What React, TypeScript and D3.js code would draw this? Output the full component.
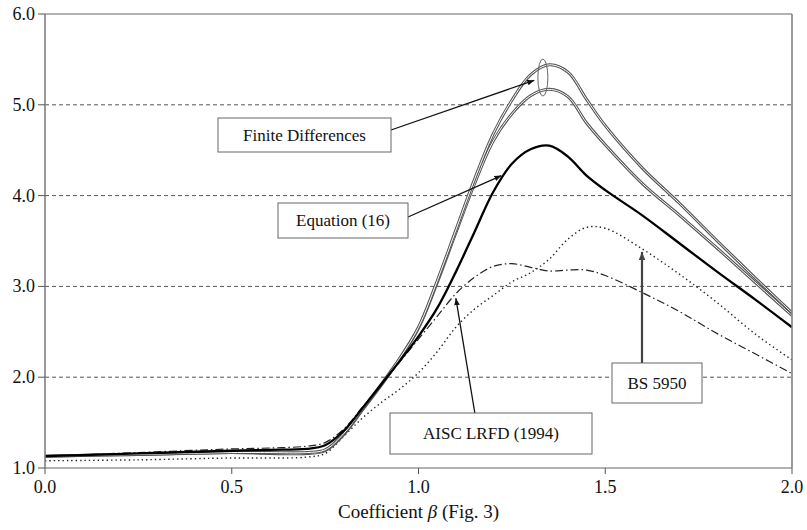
import React from "react";
import * as d3 from "d3";

const betas = [0, 0.25, 0.5, 0.6, 0.7, 0.75, 0.8, 0.85, 0.9, 0.95, 1.0, 1.05, 1.1, 1.15, 1.2, 1.25, 1.3, 1.35, 1.4, 1.45, 1.5, 1.6, 1.7, 1.8, 1.9, 2.0];

const equation16 = [1.13, 1.16, 1.19, 1.2, 1.21, 1.25, 1.41, 1.66, 1.92, 2.18, 2.45, 2.76, 3.16, 3.6, 4.04, 4.35, 4.51, 4.55, 4.43, 4.22, 4.06, 3.78, 3.47, 3.16, 2.86, 2.55];
const finiteDiffUpper = [1.13, 1.15, 1.17, 1.17, 1.17, 1.2, 1.38, 1.65, 1.92, 2.21, 2.55, 3.06, 3.62, 4.18, 4.68, 5.05, 5.33, 5.44, 5.36, 5.06, 4.77, 4.3, 3.91, 3.5, 3.1, 2.71];
const finiteDiffLower = [1.13, 1.15, 1.17, 1.16, 1.16, 1.19, 1.37, 1.64, 1.91, 2.2, 2.54, 3.04, 3.59, 4.13, 4.6, 4.9, 5.1, 5.17, 5.09, 4.8, 4.56, 4.13, 3.78, 3.42, 3.05, 2.68];
const aiscLrfd = [1.13, 1.17, 1.21, 1.22, 1.24, 1.28, 1.43, 1.67, 1.92, 2.17, 2.42, 2.67, 2.92, 3.1, 3.22, 3.25, 3.21, 3.17, 3.18, 3.18, 3.12, 2.93, 2.72, 2.48, 2.26, 2.04];
const bs5950 = [1.08, 1.09, 1.11, 1.11, 1.12, 1.16, 1.35, 1.55, 1.72, 1.87, 2.05, 2.28, 2.55, 2.75, 2.9, 3.05, 3.15, 3.3, 3.52, 3.65, 3.64, 3.41, 3.13, 2.82, 2.48, 2.19];

const xTicks = [0, 0.5, 1.0, 1.5, 2.0];
const yTicks = [1, 2, 3, 4, 5, 6];
const gridValues = [2, 3, 4, 5];

const W = 807;
const H = 530;
const M = { left: 45, right: 15, top: 14, bottom: 62 };

const FONT = '"Liberation Serif", "Times New Roman", Times, "DejaVu Serif", serif';

export default function App() {
  const x = d3.scaleLinear().domain([0, 2]).range([M.left, W - M.right]);
  const y = d3.scaleLinear().domain([1, 6]).range([H - M.bottom, M.top]);

  const line = (vals: number[]) =>
    d3
      .line<number>()
      .x((_, i) => x(betas[i]))
      .y((v) => y(v))
      .curve(d3.curveCatmullRom.alpha(0.5))(vals) || "";

  const textStyle: React.CSSProperties = { fontFamily: FONT, fill: "#111" };
  const axisColor = "#808080";

  const box = (x0: number, y0: number, x1: number, y1: number, label: string) => (
    <g>
      <rect x={x0} y={y0} width={x1 - x0} height={y1 - y0} fill="white" stroke="#666" strokeWidth={1} />
      <text x={(x0 + x1) / 2} y={(y0 + y1) / 2 + 5.5} textAnchor="middle" style={{ ...textStyle, fontSize: 17 }}>
        {label}
      </text>
    </g>
  );

  return (
    <div style={{ position: "absolute", left: 0, top: 0, fontFamily: FONT }}>
      <svg width={W} height={H} style={{ display: "block", background: "white" }}>
        <defs>
          <marker id="arr" viewBox="0 0 10 10" refX="10" refY="5" markerWidth="7" markerHeight="7" orient="auto-start-reverse" markerUnits="userSpaceOnUse">
            <path d="M0,1 L10,5 L0,9 z" fill="#111" />
          </marker>
          <marker id="arrG" viewBox="0 0 10 10" refX="10" refY="5" markerWidth="8" markerHeight="8" orient="auto-start-reverse" markerUnits="userSpaceOnUse">
            <path d="M0,1 L10,5 L0,9 z" fill="#444" />
          </marker>
          <clipPath id="plot">
            <rect x={M.left} y={M.top} width={W - M.left - M.right} height={H - M.top - M.bottom} />
          </clipPath>
        </defs>

        {gridValues.map((v) => (
          <line key={v} x1={x(0)} x2={x(2)} y1={y(v)} y2={y(v)} stroke="#555" strokeWidth={1} strokeDasharray="4,3" />
        ))}

        <g clipPath="url(#plot)" fill="none">
          <path d={line(bs5950)} stroke="#222" strokeWidth={1.4} strokeDasharray="1.4,3" />
          <path d={line(aiscLrfd)} stroke="#222" strokeWidth={1.2} strokeDasharray="8,3,1.5,3" />
          <path d={line(finiteDiffLower)} stroke="#555" strokeWidth={3} />
          <path d={line(finiteDiffLower)} stroke="white" strokeWidth={1} />
          <path d={line(finiteDiffUpper)} stroke="#555" strokeWidth={3} />
          <path d={line(finiteDiffUpper)} stroke="white" strokeWidth={1} />
          <path d={line(equation16)} stroke="#000" strokeWidth={2.3} />
        </g>

        <line x1={x(0)} x2={x(2)} y1={y(6)} y2={y(6)} stroke="#666" strokeWidth={1.2} />
        <line x1={x(0)} x2={x(2)} y1={y(1)} y2={y(1)} stroke="#666" strokeWidth={1.2} />
        <line x1={x(0)} x2={x(0)} y1={y(6)} y2={y(1)} stroke={axisColor} strokeWidth={1.6} />
        <line x1={x(2)} x2={x(2)} y1={y(6)} y2={y(1)} stroke={axisColor} strokeWidth={1.6} />

        {yTicks.map((v) => (
          <g key={v}>
            <line x1={x(0) - 7} x2={x(0)} y1={y(v)} y2={y(v)} stroke="#555" strokeWidth={1} />
            <text x={x(0) - 10} y={y(v) + 6} textAnchor="end" style={{ ...textStyle, fontSize: 18 }}>
              {v.toFixed(1)}
            </text>
          </g>
        ))}

        {xTicks.map((v) => (
          <g key={v}>
            <line x1={x(v)} x2={x(v)} y1={y(1)} y2={y(1) + 6} stroke="#555" strokeWidth={1} />
            <text x={x(v)} y={y(1) + 25} textAnchor="middle" style={{ ...textStyle, fontSize: 18 }}>
              {v.toFixed(1)}
            </text>
          </g>
        ))}

        <text x={(x(0) + x(2)) / 2} y={518} textAnchor="middle" style={{ ...textStyle, fontSize: 19 }}>
          Coefficient <tspan style={{ fontStyle: "italic" }}>β</tspan> (Fig. 3)
        </text>

        <ellipse cx={x(1.333)} cy={y(5.3)} rx={5} ry={18.5} fill="none" stroke="#666" strokeWidth={1} />
        <line x1={391} y1={130} x2={x(1.31)} y2={y(5.27)} stroke="#111" strokeWidth={1.3} markerEnd="url(#arr)" />
        {box(218, 118, 391, 152, "Finite Differences")}

        <line x1={408} y1={217} x2={x(1.222)} y2={y(4.22)} stroke="#111" strokeWidth={1.3} markerEnd="url(#arr)" />
        {box(278, 203, 408, 238, "Equation (16)")}

        <line x1={475} y1={414} x2={x(1.1)} y2={y(2.87)} stroke="#111" strokeWidth={1.3} markerEnd="url(#arr)" />
        {box(390, 413, 592, 454, "AISC LRFD (1994)")}

        <line x1={642} y1={363} x2={642} y2={y(3.38)} stroke="#444" strokeWidth={2.2} markerEnd="url(#arrG)" />
        {box(612, 363, 702, 403, "BS 5950")}
      </svg>
    </div>
  );
}
